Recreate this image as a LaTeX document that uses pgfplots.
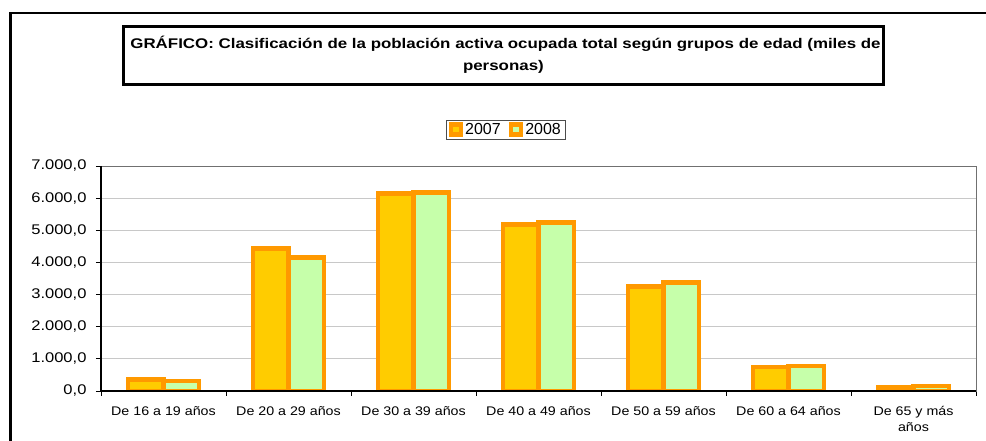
\documentclass[border=0pt]{standalone}
\usepackage{pgfplots}
\pgfplotsset{compat=1.18}
\usepackage{fontspec}
\setmainfont{Liberation Sans}
\newfontfamily\tickfont[FakeStretch=1.18]{Liberation Sans}
\newfontfamily\xlabfont[FakeStretch=1.14]{Liberation Sans}
\newfontfamily\titlefont[FakeStretch=1.207]{Liberation Sans}
\newfontfamily\legfont{Liberation Sans}
\definecolor{barorange}{HTML}{FF9900}
\definecolor{baryellow}{HTML}{FFCC00}
\definecolor{bargreen}{HTML}{C6FFAA}
\definecolor{gridgray}{HTML}{C8C8C8}
\definecolor{framegray}{HTML}{707070}
\begin{document}
\begin{tikzpicture}[x=1pt,y=1pt]
\useasboundingbox (0,0) rectangle (986,441);
\clip (0,0) rectangle (986,441);
\draw[line width=2.6pt] (10.5,-10) -- (10.5,428) -- (1000,428);
\draw[line width=3pt] (123.7,414.2) rectangle (883,356.3);
\node[anchor=base, inner sep=0pt, font=\titlefont\bfseries\fontsize{14}{16}\selectfont] at (505.5,392.3) {GRÁFICO: Clasificación de la población activa ocupada total según grupos de edad (miles de};
\node[anchor=base, inner sep=0pt, font=\titlefont\bfseries\fontsize{14}{16}\selectfont] at (503.4,370) {personas)};
\begin{axis}[
  at={(101pt,50pt)}, anchor=south west,
  width=875pt, height=225pt, scale only axis,
  xmin=-0.5, xmax=6.5, ymin=0, ymax=7000,
  ybar=0pt, bar width=35.6pt,
  clip=true,
  tick align=outside,
  major tick length=5pt,
  xtick pos=bottom, ytick pos=left,
  xtick={-0.5,0.5,...,6.5}, xticklabels={},
  extra x ticks={0,1,2,3,4,5,6},
  extra x tick labels={De 16 a 19 años, De 20 a 29 años, De 30 a 39 años, De 40 a 49 años, De 50 a 59 años, De 60 a 64 años, {De 65 y más\\años}},
  extra x tick style={tick style={draw=none}, grid=none},
  xticklabel style={font=\xlabfont\fontsize{12.5}{15.5}\selectfont, align=center, yshift=-7pt},
  ytick={0,1000,...,7000},
  scaled y ticks=false,
  yticklabel style={font=\tickfont\fontsize{14}{16}\selectfont, xshift=-6pt},
  /pgf/number format/.cd, fixed, fixed zerofill, precision=1, use comma, 1000 sep={.}, assume math mode=true,
  /pgfplots/.cd,
  ymajorgrids, xmajorgrids=false,
  major grid style={draw=gridgray, line width=0.9pt},
  tick style={draw=black, line width=0.9pt},
  axis line style={draw=framegray, line width=0.9pt},
  legend columns=2,
  legend style={at={(0.4626,1.1613)}, anchor=center, draw=black!70, line width=0.7pt,
    font=\legfont\fontsize{16}{18}\selectfont, inner xsep=2pt, inner ysep=1pt,
    /tikz/every even column/.append style={column sep=6pt}},
  legend image code/.code={\draw[#1, line width=4.5pt] (0pt,-5pt) rectangle (10pt,5pt);},
  after end axis/.code={\draw[black, line width=1.2pt] (rel axis cs:0,1) -- (rel axis cs:0,0) -- (rel axis cs:1,0);},
]
\addplot[draw=barorange, fill=baryellow, line width=4.5pt] coordinates {
 (0,359) (1,4438) (2,6147) (3,5183) (4,3257) (5,741) (6,120)};
\addplot[draw=barorange, fill=bargreen, line width=4.5pt] coordinates {
 (0,305) (1,4158) (2,6168) (3,5245) (4,3381) (5,781) (6,151)};
\legend{2007,2008}
\end{axis}
\end{tikzpicture}
\end{document}
